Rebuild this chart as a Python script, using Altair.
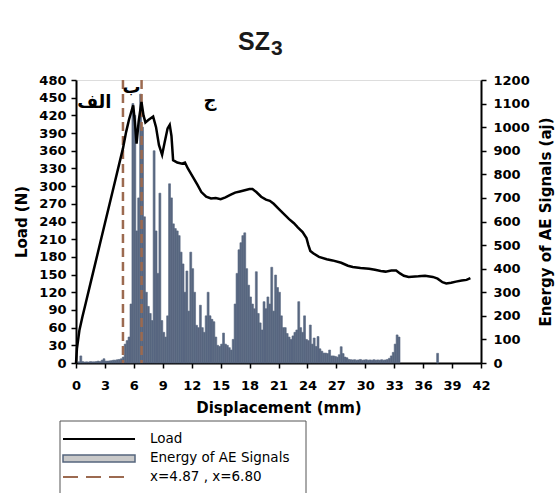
import altair as alt
import pandas as pd

# ---------------- data ----------------
load_x = [0.0, 0.1, 0.35, 0.66, 1.0, 1.5, 2.0, 2.5, 3.0, 3.5, 4.0, 4.5, 4.87, 5.2, 5.5, 5.93,
          6.1, 6.28, 6.5, 6.79, 7.0, 7.2, 7.5, 8.0, 8.3, 8.6, 8.93, 9.2, 9.5, 9.72, 9.9,
          10.07, 10.5, 11.0, 11.3, 11.6, 12.1, 12.6, 13.0, 13.5, 14.0, 14.5, 15.0, 15.5,
          16.0, 16.5, 17.0, 17.5, 18.0, 18.3, 18.7, 19.2, 19.7, 20.1, 20.5, 21.1, 21.6,
          22.1, 22.6, 23.0, 23.5, 23.9, 24.1, 24.3, 24.6, 25.2, 26.0, 26.6, 27.5, 28.2,
          28.7, 29.5, 30.4, 31.0, 31.6, 32.1, 32.7, 33.2, 33.6, 34.0, 34.5, 35.5, 36.2,
          37.0, 37.5, 38.0, 38.4, 38.9, 39.4, 40.0, 40.5, 40.9]
load_n = [0, 25, 55, 78, 101, 135, 169, 203, 237, 271, 305, 339, 364, 392, 413, 437,
          410, 372, 410, 443, 420, 408, 412, 418, 400, 370, 353, 375, 398, 404, 385,
          344, 340, 338, 340, 330, 316, 302, 290, 282, 279, 280, 278, 281,
          285, 289, 291, 293, 295, 295, 290, 282, 277, 275, 270, 260, 252,
          244, 237, 230, 222, 212, 200, 190, 186, 180, 176, 174, 170, 165,
          163, 161, 160, 158, 156, 155, 157, 157, 152, 148, 146, 147, 148,
          146, 143, 137, 135, 136, 138, 140, 141, 144]

# AE energy per 0.2 mm displacement bin (bins start at 0.0, 0.2, ... 41.8)
energy_bin_start = [round(i * 0.2, 1) for i in range(210)]
energy_aj = [0, 5, 30, 6, 4, 5, 4, 6, 5, 5,
             6, 8, 6, 12, 18, 8, 8, 9, 10, 12,
             12, 14, 15, 18, 25, 80, 95, 110, 250, 1100,
             1050, 560, 700, 1140, 1000, 620, 300, 240, 210, 180,
             900, 560, 380, 720, 180, 130, 110, 200, 760, 700,
             590, 570, 560, 540, 470, 420, 300, 390, 220, 470,
             400, 300, 160, 150, 245, 150, 130, 200, 300, 200,
             185, 175, 110, 75, 70, 80, 127, 80, 75, 65,
             55, 100, 250, 380, 480, 510, 540, 552, 400, 330,
             280, 250, 230, 387, 210, 170, 140, 260, 230, 280,
             250, 406, 220, 373, 320, 300, 200, 150, 150, 125,
             110, 100, 115, 130, 140, 260, 150, 130, 200, 100,
             95, 161, 80, 106, 70, 112, 60, 50, 42, 42,
             40, 55, 30, 30, 28, 25, 35, 69, 40, 25,
             22, 15, 14, 13, 14, 12, 13, 15, 12, 13,
             14, 12, 13, 12, 14, 12, 13, 12, 14, 12,
             13, 15, 20, 30, 45, 80, 119, 110, 0, 0,
             0, 0, 0, 0, 0, 0, 0, 0, 0, 0,
             0, 0, 0, 0, 0, 0, 0, 41, 0, 0,
             0, 0, 0, 0, 0, 0, 0, 0, 0, 0,
             0, 0, 0, 0, 0, 0, 0, 0, 0, 0]
bin_width = 0.2

marker_x = [4.87, 6.80]
zone_labels = ["الف", "ب", "ج"]
zone_x = [1.9, 5.75, 13.9]
zone_y = [441, 466, 444]

x_ticks = list(range(0, 43, 3))
load_ticks = list(range(0, 481, 30))
energy_ticks = list(range(0, 1201, 100))

legend_labels = ["Load", "Energy of AE Signals", "x=4.87 , x=6.80"]

# ---------------- tables ----------------
edf = pd.DataFrame({"x": energy_bin_start,
                    "x1": [round(v + bin_width, 1) for v in energy_bin_start],
                    "e": energy_aj,
                    "base": [0] * len(energy_aj)})
edf = edf[edf["e"] > 0]
ldf = pd.DataFrame({"x": load_x, "load": load_n})
mdf = pd.DataFrame({"x": marker_x})
zdf = pd.DataFrame({"x": zone_x, "y": zone_y, "t": zone_labels})

W, H = 405, 283
BOLD = "DejaVu Sans"
ARIAL = "Liberation Sans"
BAR = "#586780"
BROWN = "#9c6a50"

xscale = alt.Scale(domain=[0, 42], nice=False, zero=False)
xaxis = alt.Axis(values=x_ticks, title="Displacement (mm)", grid=False, format="d",
                 labelFont=BOLD, labelFontWeight="bold", labelFontSize=13,
                 labelColor="black", labelFlush=False, labelOverlap=False,
                 labelPadding=11, tickSize=5, tickColor="black", tickWidth=1.5,
                 domainColor="black", domainWidth=2,
                 titleFont=BOLD, titleFontSize=15, titleFontWeight="bold",
                 titleColor="black", titlePadding=8)
X = alt.X("x:Q", scale=xscale, axis=xaxis)

energy_scale = alt.Scale(domain=[0, 1200], nice=False)
energy = alt.Chart(edf).mark_rect(color=BAR, stroke=BAR, strokeWidth=0.6).encode(
    x=X,
    x2="x1:Q",
    y=alt.Y("e:Q", scale=energy_scale,
            axis=alt.Axis(orient="right", values=energy_ticks, format="d",
                          title="Energy of AE Signals (aj)", grid=False,
                          labelFont=BOLD, labelFontWeight="bold", labelFontSize=13,
                          labelColor="black", labelPadding=7, tickSize=5,
                          tickColor="black", tickWidth=1.5, domainColor="black",
                          domainWidth=2, titleFont=BOLD, titleFontSize=15,
                          titleFontWeight="bold", titleColor="black",
                          titleAngle=270, titlePadding=24)),
    y2="base:Q",
)

rules = alt.Chart(mdf).mark_rule(color=BROWN, strokeDash=[9, 5], strokeWidth=2.5).encode(x=X)

load_scale = alt.Scale(domain=[0, 480], nice=False)
load = alt.Chart(ldf).mark_line(color="black", strokeWidth=2.5).encode(
    x=X,
    y=alt.Y("load:Q", scale=load_scale,
            axis=alt.Axis(orient="left", values=load_ticks, title="Load (N)",
                          grid=False, labelFont=BOLD, labelFontWeight="bold",
                          labelFontSize=13, labelColor="black", labelPadding=5,
                          tickSize=5, tickColor="black", tickWidth=1.5,
                          domainColor="black", domainWidth=2, titleFont=BOLD,
                          titleFontSize=15, titleFontWeight="bold",
                          titleColor="black", titlePadding=9)),
)

zones = alt.Chart(zdf).mark_text(font=BOLD, fontSize=18, fontWeight="bold",
                                 color="black", baseline="middle", align="center").encode(
    x=X,
    y=alt.Y("y:Q", scale=load_scale, axis=None),
    text="t:N",
)

# ---------------- title (SZ with subscript 3) ----------------
title_sz = alt.Chart(pd.DataFrame({"t": ["SZ"]})).mark_text(
    font=ARIAL, fontSize=25, fontWeight="bold", color="#1a1a1a",
    align="left", baseline="alphabetic").encode(
    text="t:N", x=alt.value(162), y=alt.value(-30))
title_sub = alt.Chart(pd.DataFrame({"t": ["3"]})).mark_text(
    font=ARIAL, fontSize=21, fontWeight="bold", color="#1a1a1a",
    align="left", baseline="alphabetic").encode(
    text="t:N", x=alt.value(195), y=alt.value(-25))

# ---------------- legend box ----------------
one = pd.DataFrame({"a": [0]})
lg_top = alt.Chart(one).mark_rule(color="#555555", strokeWidth=1).encode(
    x=alt.value(-16), x2=alt.value(230), y=alt.value(341))
lg_left = alt.Chart(one).mark_rule(color="#555555", strokeWidth=1).encode(
    x=alt.value(-16), y=alt.value(341), y2=alt.value(425))
lg_right = alt.Chart(one).mark_rule(color="#555555", strokeWidth=1).encode(
    x=alt.value(230), y=alt.value(341), y2=alt.value(425))
lg_line = alt.Chart(one).mark_rule(color="black", strokeWidth=2).encode(
    x=alt.value(-13), x2=alt.value(59), y=alt.value(359))
lg_swatch = alt.Chart(one).mark_rect(fill="#c9c9c9", stroke="#56657d", strokeWidth=1.5).encode(
    x=alt.value(-13), x2=alt.value(59), y=alt.value(375), y2=alt.value(382))
lg_dash = alt.Chart(one).mark_rule(color=BROWN, strokeWidth=2, strokeDash=[15, 8]).encode(
    x=alt.value(-13), x2=alt.value(52), y=alt.value(397))
lg_texts = []
for lbl, yy in zip(legend_labels, [359, 378, 397]):
    lg_texts.append(
        alt.Chart(pd.DataFrame({"t": [lbl]})).mark_text(
            font=BOLD, fontSize=13.5, color="black", align="left", baseline="middle").encode(
            text="t:N", x=alt.value(74), y=alt.value(yy)))

chart = alt.layer(
    energy, rules, load, zones, title_sz, title_sub,
    lg_top, lg_left, lg_right, lg_line, lg_swatch, lg_dash, *lg_texts
).resolve_scale(y="independent").properties(
    width=W, height=H,
    padding={"left": 76, "top": 80, "right": 78, "bottom": 130},
    autosize=alt.AutoSizeParams(type="none"),
).configure_view(stroke="black", strokeWidth=2).configure(background="white")

chart.save("out.html", embed_options={"renderer": "svg", "actions": False})
